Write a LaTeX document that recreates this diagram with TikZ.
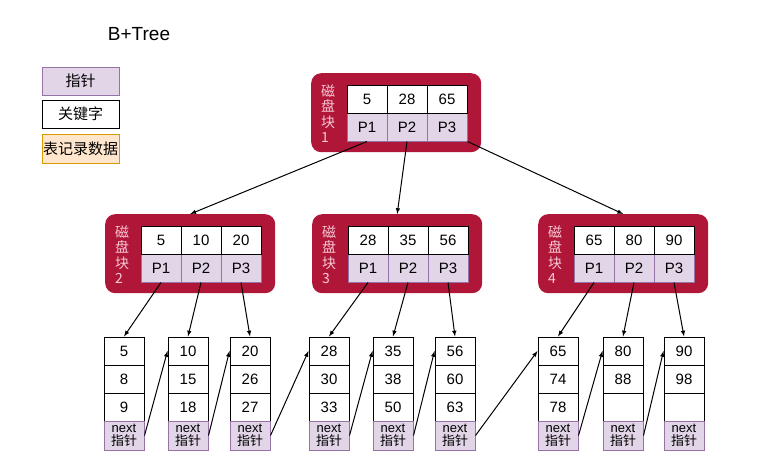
\documentclass[tikz,border=0pt]{standalone}
\usepackage{fontspec}
\setmainfont{Liberation Sans}
\newfontfamily\cjk{Noto Sans CJK SC}
\usetikzlibrary{arrows}
\definecolor{blkred}{RGB}{176,22,56}
\definecolor{blktext}{RGB}{248,200,212}
\definecolor{ptrfill}{HTML}{E1D5E7}
\definecolor{ptrline}{HTML}{9673A6}
\definecolor{recfill}{HTML}{FFE6CC}
\definecolor{recline}{HTML}{D79B00}
\tikzstyle{arrow} = [line width=1pt,->,>=latex]
\tikzset{
 key/.style
  = {draw, line width=1pt, fill=white, minimum width=40pt, minimum height=28pt,
     inner sep=0pt, font=\fontsize{15}{17}\selectfont},
 ptr/.style
  = {key, draw=ptrline, fill=ptrfill},
 rec/.style
  = {key, draw=recline, fill=recfill},
 nxt/.style
  = {ptr, minimum height=29pt, align=center, font=\fontsize{13}{13}\selectfont},
 blk/.style
  = {fill=blkred, rounded corners=10pt, minimum width=170pt, minimum height=79pt, inner sep=0pt},
 blklabel/.style
  = {text=blktext, align=left, inner sep=0pt, font=\cjk\fontsize{14}{15.5}\selectfont},
}

\begin{document}
\begin{tikzpicture}[x=1pt,y=-1pt]
\useasboundingbox (0,0) rectangle (783,460);

% Title
\node[font=\fontsize{19}{21}\selectfont] (title) at (139,34) {B+Tree};

% Legend
\node[ptr, minimum width=77pt, font=\cjk\fontsize{15}{17}\selectfont] (lgptr) at (80.5,81) {指针};
\node[key, minimum width=77pt, font=\cjk\fontsize{15}{17}\selectfont] (lgkey) at (80.5,114) {关键字};
\node[rec, minimum width=77pt, minimum height=29pt, font=\cjk\fontsize{15}{17}\selectfont] (lgrec) at (80.5,148.5) {表记录数据};

% Disk blocks
\foreach \n/\x/\y/\a/\b/\c in {1/311/73/5/28/65, 2/105/214/5/10/20, 3/312/214/28/35/56, 4/538/214/65/80/90}{
  \node[blk, anchor=north west] (blk\n) at (\x,\y) {};
  \node[blklabel, anchor=west] (lbl\n) at (\x+10,\y+40.5) {磁\\盘\\块\\\n};
  \foreach \v [count=\i] in {\a,\b,\c}{
    \node[ptr] (p\n-\i) at (\x+16+40*\i,\y+54) {P\i};
    \node[key] (k\n-\i) at (\x+16+40*\i,\y+26) {\v};
  }
}

% Leaf nodes
\foreach \n/\x/\a/\b/\c in {1/104/5/8/9, 2/168/10/15/18, 3/230/20/26/27,
    4/309/28/30/33, 5/373/35/38/50, 6/435/56/60/63,
    7/538/65/74/78, 8/603/80/88/{}, 9/664/90/98/{}}{
  \foreach \v [count=\i] in {\a,\b,\c}
    \node[key] (l\n-\i) at (\x+20,323+28*\i) {\v};
  \node[nxt] (l\n-n) at (\x+20,435.5) {next\\{\cjk 指针}};
}

% Root pointers
\draw[arrow] (p1-1.south) -- (blk2.north);
\draw[arrow] (p1-2.south) -- (blk3.north);
\draw[arrow] (p1-3.south east) -- (blk4.north);

% Block pointers to leaves
\foreach \b/\l/\m/\r in {2/1/2/3, 3/4/5/6, 4/7/8/9}{
  \draw[arrow] (p\b-1.south) -- (l\l-1.north);
  \draw[arrow] (p\b-2.south) -- (l\m-1.north);
  \draw[arrow] (p\b-3.south) -- (l\r-1.north);
}

% Next pointers
\foreach \n [evaluate=\n as \m using int(\n+1)] in {1,...,8}
  \draw[arrow] (l\n-n.east) -- (l\m-1.west);

\end{tikzpicture}
\end{document}
